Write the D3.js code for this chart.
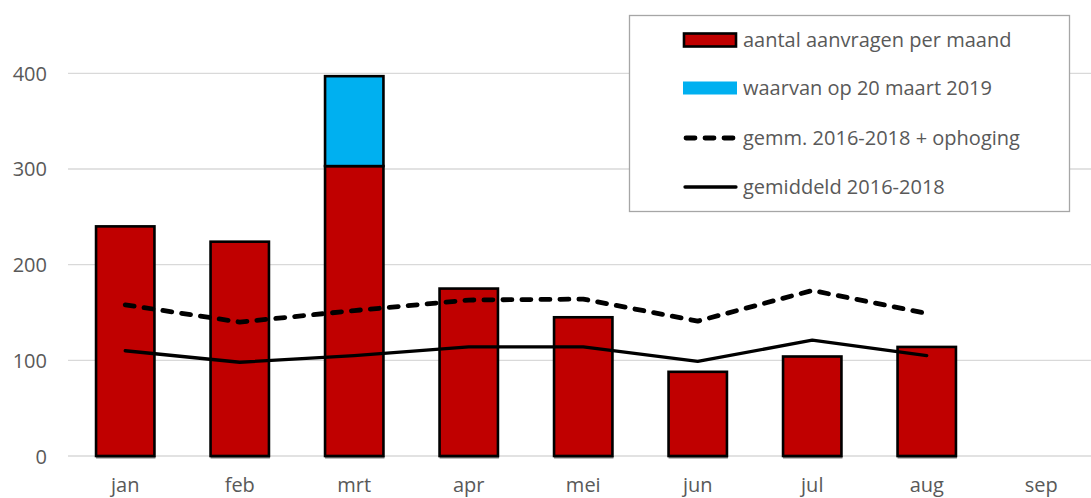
<!DOCTYPE html>
<html><head><meta charset="utf-8">
<script src="https://cdn.jsdelivr.net/npm/d3@7"></script>
<style>
body{margin:0;background:#fff;}
text{font-family:"Open Sans",sans-serif;fill:#595959;}
</style></head>
<body><svg id="c" width="1091" height="498"></svg>
<script>
const months = ["jan","feb","mrt","apr","mei","jun","jul","aug","sep"];
const aanvragen = [240,224,303,175,145,88,104,114,null];
const opMaart20 = [0,0,94,0,0,0,0,0,null];
const gemmOphoging = [158,140,152,163,164,141,173,149,null];
const gemiddeld = [110,98,105,114,114,99,121,105,null];
const yTicks = [0,100,200,300,400];
const legendLabels = ["aantal aanvragen per maand","waarvan op 20 maart 2019","gemm. 2016-2018 + ophoging","gemiddeld 2016-2018"];

const svg = d3.select("#c");
const x = d3.scaleBand().domain(months).range([68, 68 + 9*114.5]).paddingInner(0.49).paddingOuter(0.245);
const y = d3.scaleLinear().domain([0,400]).range([456, 73.3]);

// gridlines
svg.append("g").selectAll("line").data(yTicks).join("line")
  .attr("x1",68).attr("x2",1091).attr("y1",d=>y(d)).attr("y2",d=>y(d))
  .attr("stroke","#d9d9d9").attr("stroke-width",1.3);

// y axis labels
const yAxis = d3.axisLeft(y).tickValues(yTicks).tickSize(0).tickPadding(0);
const ga = svg.append("g").attr("transform","translate(47,0)").call(yAxis);
ga.select(".domain").remove();
ga.selectAll("text").style("font-size","20px").attr("fill","#595959").attr("dy","0.35em");

// x axis labels
const xAxis = d3.axisBottom(x).tickSize(0).tickPadding(0);
const gx = svg.append("g").attr("transform","translate(0,478)").call(xAxis);
gx.select(".domain").remove();
gx.selectAll("text").style("font-size","20px").attr("fill","#595959").attr("dy","0.71em");

const idx = months.map((m,i)=>i).filter(i=>aanvragen[i]!==null);

// shadows under bars
svg.append("g").selectAll("rect").data(idx).join("rect")
  .attr("x",i=>x(months[i])).attr("width",x.bandwidth()+1).attr("y",y(0)).attr("height",2.5)
  .attr("fill","#7f7f7f");

// red bars
svg.append("g").selectAll("rect").data(idx).join("rect")
  .attr("x",i=>x(months[i])).attr("width",x.bandwidth())
  .attr("y",i=>y(aanvragen[i])).attr("height",i=>y(0)-y(aanvragen[i]))
  .attr("fill","#c00000").attr("stroke","#000").attr("stroke-width",2.6);

// blue stacked
svg.append("g").selectAll("rect").data(idx.filter(i=>opMaart20[i]>0)).join("rect")
  .attr("x",i=>x(months[i])).attr("width",x.bandwidth())
  .attr("y",i=>y(aanvragen[i]+opMaart20[i])).attr("height",i=>y(aanvragen[i])-y(aanvragen[i]+opMaart20[i]))
  .attr("fill","#00b0f0").attr("stroke","#000").attr("stroke-width",2.6);

const cx = i=>x(months[i])+x.bandwidth()/2;
const line = arr => d3.line().x(i=>cx(i)).y(i=>y(arr[i]))(idx);

svg.append("path").attr("d",line(gemiddeld)).attr("fill","none")
  .attr("stroke","#000").attr("stroke-width",3.3).attr("stroke-linejoin","round").attr("stroke-linecap","round");
svg.append("path").attr("d",line(gemmOphoging)).attr("fill","none")
  .attr("stroke","#000").attr("stroke-width",4.8).attr("stroke-dasharray","9,10")
  .attr("stroke-linejoin","round").attr("stroke-linecap","round");

// legend
const lg = svg.append("g");
lg.append("rect").attr("x",629.5).attr("y",15.5).attr("width",440).attr("height",196)
  .attr("fill","#fff").attr("stroke","#a6a6a6").attr("stroke-width",1.3);
const rowsY = [40,88,138,187];
lg.append("rect").attr("x",684).attr("y",rowsY[0]-6.5).attr("width",52).attr("height",13)
  .attr("fill","#c00000").attr("stroke","#000").attr("stroke-width",2.6);
lg.append("rect").attr("x",683).attr("y",rowsY[1]-6.5).attr("width",54).attr("height",13)
  .attr("fill","#00b0f0");
lg.append("line").attr("x1",686).attr("x2",735).attr("y1",rowsY[2]).attr("y2",rowsY[2])
  .attr("stroke","#000").attr("stroke-width",4.8).attr("stroke-dasharray","9,10").attr("stroke-linecap","round");
lg.append("line").attr("x1",685).attr("x2",736).attr("y1",rowsY[3]).attr("y2",rowsY[3])
  .attr("stroke","#000").attr("stroke-width",3.3).attr("stroke-linecap","round");
lg.selectAll("text.l").data(legendLabels).join("text").attr("class","l")
  .attr("x",743).attr("y",(d,i)=>rowsY[i]).attr("dy","0.35em")
  .style("font-size","20px").text(d=>d);
</script></body></html>
